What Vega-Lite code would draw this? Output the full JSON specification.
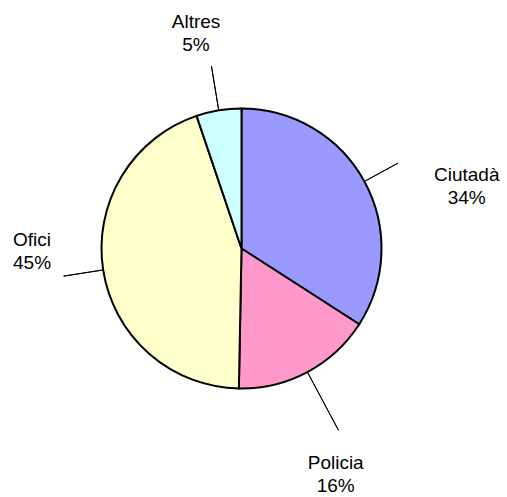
{
  "$schema": "https://vega.github.io/schema/vega-lite/v6.json",
  "width": 483,
  "height": 497,
  "autosize": {"type": "none"},
  "padding": {"left": 0, "top": 0, "right": 24, "bottom": 0},
  "background": "white",
  "config": {"view": {"stroke": null}, "text": {"font": "Liberation Sans"}},
  "data": {"values": [
    {"cat": "Ciutadà", "value": 34.1, "label": "34%", "order": 1},
    {"cat": "Policia", "value": 16.2, "label": "16%", "order": 2},
    {"cat": "Ofici", "value": 44.5, "label": "45%", "order": 3},
    {"cat": "Altres", "value": 5.2, "label": "5%", "order": 4}
  ]},
  "transform": [
    {"stack": "value", "groupby": [], "sort": [{"field": "order", "order": "ascending"}], "as": ["v0", "v1"]},
    {"calculate": "(datum.v0 + datum.v1) / 2", "as": "mid"},
    {"calculate": "datum.cat + '\\n' + datum.label", "as": "txt"}
  ],
  "layer": [
    {
      "mark": {"type": "arc", "radius": 140, "stroke": "black", "strokeWidth": 2},
      "encoding": {
        "theta": {"field": "v0", "type": "quantitative", "scale": {"domain": [0, 100], "range": [0, 6.283185307179586]}},
        "theta2": {"field": "v1"},
        "color": {"field": "cat", "type": "nominal", "legend": null,
          "scale": {"domain": ["Ciutadà", "Policia", "Ofici", "Altres"], "range": ["#9999FF", "#FF99CC", "#FFFFCC", "#CCFFFF"]}}
      }
    },
    {
      "transform": [{"filter": "datum.cat === 'Ciutadà'"}],
      "mark": {"type": "arc", "radius": 178, "radius2": 141, "stroke": "black", "strokeWidth": 1, "fill": null},
      "encoding": {"theta": {"field": "mid", "type": "quantitative"}, "theta2": {"field": "mid"}}
    },
    {
      "transform": [{"filter": "datum.cat === 'Policia'"}],
      "mark": {"type": "arc", "radius": 206, "radius2": 141, "stroke": "black", "strokeWidth": 1, "fill": null},
      "encoding": {"theta": {"field": "mid", "type": "quantitative"}, "theta2": {"field": "mid"}}
    },
    {
      "transform": [{"filter": "datum.cat === 'Ofici'"}],
      "mark": {"type": "arc", "radius": 180, "radius2": 141, "stroke": "black", "strokeWidth": 1, "fill": null},
      "encoding": {"theta": {"field": "mid", "type": "quantitative"}, "theta2": {"field": "mid"}}
    },
    {
      "transform": [{"filter": "datum.cat === 'Altres'"}],
      "mark": {"type": "arc", "radius": 185, "radius2": 141, "stroke": "black", "strokeWidth": 1, "fill": null},
      "encoding": {"theta": {"field": "mid", "type": "quantitative"}, "theta2": {"field": "mid"}}
    },
    {
      "transform": [{"filter": "datum.cat === 'Ciutadà'"}],
      "mark": {"type": "text", "radius": 215, "dx": 36.5, "dy": 29.3, "fontSize": 19, "lineBreak": "\n", "lineHeight": 23.4, "align": "center", "baseline": "middle", "color": "black"},
      "encoding": {"theta": {"field": "mid", "type": "quantitative"}, "text": {"field": "txt"}}
    },
    {
      "transform": [{"filter": "datum.cat === 'Policia'"}],
      "mark": {"type": "text", "radius": 215, "dx": -7, "dy": 24.5, "fontSize": 19, "lineBreak": "\n", "lineHeight": 23, "align": "center", "baseline": "middle", "color": "black"},
      "encoding": {"theta": {"field": "mid", "type": "quantitative"}, "text": {"field": "txt"}}
    },
    {
      "transform": [{"filter": "datum.cat === 'Ofici'"}],
      "mark": {"type": "text", "radius": 215, "dx": 3, "dy": -41.5, "fontSize": 19, "lineBreak": "\n", "lineHeight": 23.4, "align": "center", "baseline": "middle", "color": "black"},
      "encoding": {"theta": {"field": "mid", "type": "quantitative"}, "text": {"field": "txt"}}
    },
    {
      "transform": [{"filter": "datum.cat === 'Altres'"}],
      "mark": {"type": "text", "radius": 215, "dx": -10.5, "dy": -14.5, "fontSize": 19, "lineBreak": "\n", "lineHeight": 23.4, "align": "center", "baseline": "middle", "color": "black"},
      "encoding": {"theta": {"field": "mid", "type": "quantitative"}, "text": {"field": "txt"}}
    }
  ]
}
